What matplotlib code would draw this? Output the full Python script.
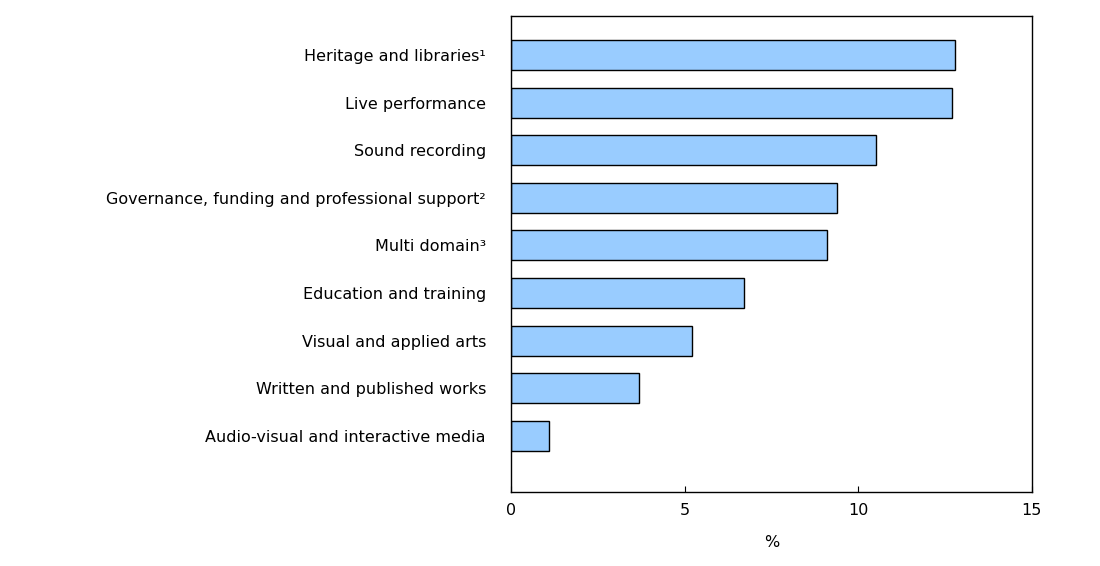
import matplotlib.pyplot as plt
import numpy as np

categories = ["Heritage and libraries\u00b9", "Live performance", "Sound recording",
              "Governance, funding and professional support\u00b2", "Multi domain\u00b3",
              "Education and training", "Visual and applied arts",
              "Written and published works", "Audio-visual and interactive media"]
values = [12.8, 12.7, 10.5, 9.4, 9.1, 6.7, 5.2, 3.7, 1.1]

fig = plt.figure(figsize=(11, 5.66), dpi=100)
ax = fig.add_axes([0.4645, 0.1307, 0.4735, 0.841])
y = np.arange(len(categories))
ax.barh(y, values, height=0.63, color="#99ccff", edgecolor="black", linewidth=1)
ax.set_yticks(y)
ax.set_yticklabels(categories, fontsize=11.5)
ax.tick_params(axis="y", length=0, pad=18)
ax.set_ylim(len(categories) - 1 + 1.18, -0.82)
ax.set_xlim(0, 15)
ax.set_xticks([0, 5, 10, 15])
ax.tick_params(axis="x", labelsize=11.5, direction="in", length=4, pad=8)
ax.set_xlabel("%", fontsize=11.5, labelpad=12)
for s in ax.spines.values():
    s.set_linewidth(1)
fig.savefig("out.png")
